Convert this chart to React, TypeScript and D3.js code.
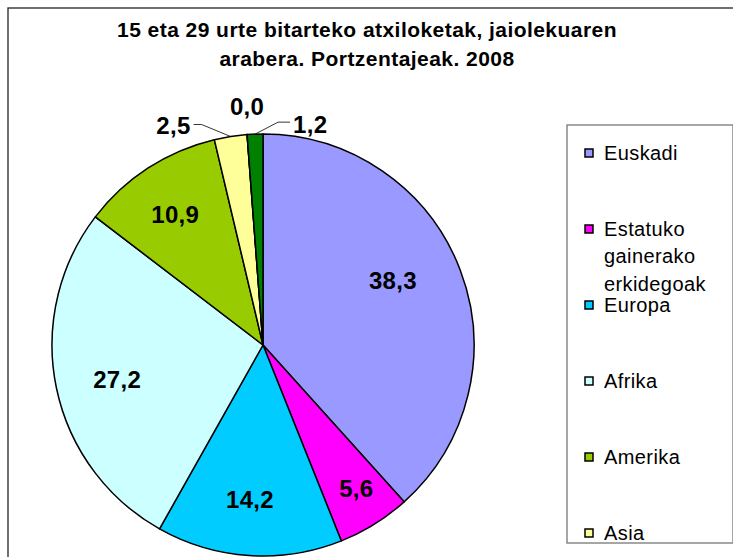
import React from 'react';
import * as d3 from 'd3';

const categories = [
  'Euskadi',
  'Estatuko gainerako erkidegoak',
  'Europa',
  'Afrika',
  'Amerika',
  'Asia',
  'Ozeania',
  'Ezezaguna',
];
const values = [38.3, 5.6, 14.2, 27.2, 10.9, 2.5, 0.0, 1.2];
const colors = ['#9999FF', '#FF00FF', '#00CCFF', '#CCFFFF', '#99CC00', '#FFFF99', '#FF8080', '#008000'];
const titleLines = ['15 eta 29 urte bitarteko atxiloketak, jaiolekuaren', 'arabera. Portzentajeak. 2008'];

const W = 733;
const H = 557;
const cx = 263;
const cy = 345;
const R = 211;

const fmt = (v: number) => v.toFixed(1).replace('.', ',');

// label layout tweaks (Excel-like placement)
const insideNudge: Record<number, [number, number]> = {
  0: [-12, -10],
  1: [13, 14],
  2: [-3, 3],
  3: [3, 4],
  4: [-5, -3],
};

export default function App() {
  const pie = d3
    .pie<number>()
    .sort(null)
    .value((d) => d)
    .startAngle(0)
    .endAngle(2 * Math.PI);
  const arcs = pie(values);
  const arc = d3.arc<d3.PieArcDatum<number>>().innerRadius(0).outerRadius(R);
  const labelArc = d3.arc<d3.PieArcDatum<number>>().innerRadius(152).outerRadius(152);

  const legendX = 567;
  const legendY = 125;
  const legendW = 166;
  const legendH = 418;
  const step = 76;
  const firstY = 153.5;

  const labelFont = { fontFamily: 'Liberation Sans, Arial, sans-serif', fontWeight: 700, fontSize: 24, letterSpacing: 0.3 };

  const labels = arcs.map((a, i) => {
    const mid = (a.startAngle + a.endAngle) / 2;
    const px = Math.sin(mid) * R;
    const py = -Math.cos(mid) * R;
    const text = fmt(values[i]);
    if (insideNudge[i]) {
      const [x, y] = labelArc.centroid(a);
      const [nx, ny] = insideNudge[i];
      return (
        <text key={i} x={x + nx} y={y + ny} dy="0.36em" textAnchor="middle" style={labelFont}>
          {text}
        </text>
      );
    }
    if (values[i] === 0) {
      return (
        <text key={i} x={px} y={py - 28} dy="0.36em" textAnchor="middle" style={labelFont}>
          {text}
        </text>
      );
    }
    const left = mid > Math.PI * 1.9 && i < values.length - 1;
    if (left) {
      const ex = px - 29;
      const ey = py - 12;
      return (
        <g key={i}>
          <polyline points={`${px},${py} ${ex},${ey} ${ex - 8},${ey}`} fill="none" stroke="#000" strokeWidth={0.8} />
          <text x={ex - 11} y={ey + 1} dy="0.36em" textAnchor="end" style={labelFont}>
            {text}
          </text>
        </g>
      );
    }
    const ex = px + 23;
    const ey = py - 12;
    return (
      <g key={i}>
        <polyline points={`${px},${py} ${ex},${ey} ${ex + 12},${ey}`} fill="none" stroke="#000" strokeWidth={0.8} />
        <text x={ex + 15} y={ey + 2} dy="0.36em" textAnchor="start" style={labelFont}>
          {text}
        </text>
      </g>
    );
  });

  return (
    <div style={{ position: 'absolute', left: 0, top: 0, width: W, height: H, overflow: 'hidden' }}>
      <svg width={W} height={H} style={{ display: 'block', background: '#fff' }}>
        <defs>
          <clipPath id="legclip">
            <rect x={legendX} y={legendY} width={legendW} height={legendH} />
          </clipPath>
        </defs>
        <rect x={0} y={0} width={W} height={H} fill="#fff" />
        {/* outer chart frame */}
        <rect x={8} y={8} width={W + 20} height={H + 20} fill="none" stroke="#222" strokeWidth={1.3} />

        {/* title */}
        <g style={{ fontFamily: 'Liberation Sans, Arial, sans-serif', fontWeight: 700, fontSize: 21, letterSpacing: 0.45 }}>
          {titleLines.map((t, i) => (
            <text key={i} x={367} y={37 + i * 29} textAnchor="middle" fill="#000">
              {t}
            </text>
          ))}
        </g>

        {/* pie */}
        <g transform={`translate(${cx},${cy})`}>
          {arcs.map((a, i) => (
            <path key={i} d={arc(a) || ''} fill={colors[i]} stroke="#000" strokeWidth={1.5} strokeLinejoin="round" />
          ))}
          {labels}
        </g>

        {/* legend (entries that do not fit in the box are cut off, as in the original) */}
        <rect x={legendX} y={legendY} width={legendW} height={legendH} fill="#fff" stroke="#777" strokeWidth={1.3} />
        <g clipPath="url(#legclip)" style={{ fontFamily: 'Liberation Sans, Arial, sans-serif', fontSize: 20, letterSpacing: 0.4 }}>
          {categories.map((c, i) => {
            const yc = firstY + i * step;
            if (yc > legendY + legendH) return null;
            const lines = c.length > 12 ? c.split(' ') : [c];
            return (
              <g key={i}>
                <rect x={585} y={yc - 4.5} width={8} height={8} fill={colors[i]} stroke="#000" strokeWidth={1.5} />
                {lines.map((l, j) => (
                  <text key={j} x={604} y={yc + 6 + j * 27.5} fill="#000">
                    {l}
                  </text>
                ))}
              </g>
            );
          })}
        </g>
      </svg>
    </div>
  );
}
